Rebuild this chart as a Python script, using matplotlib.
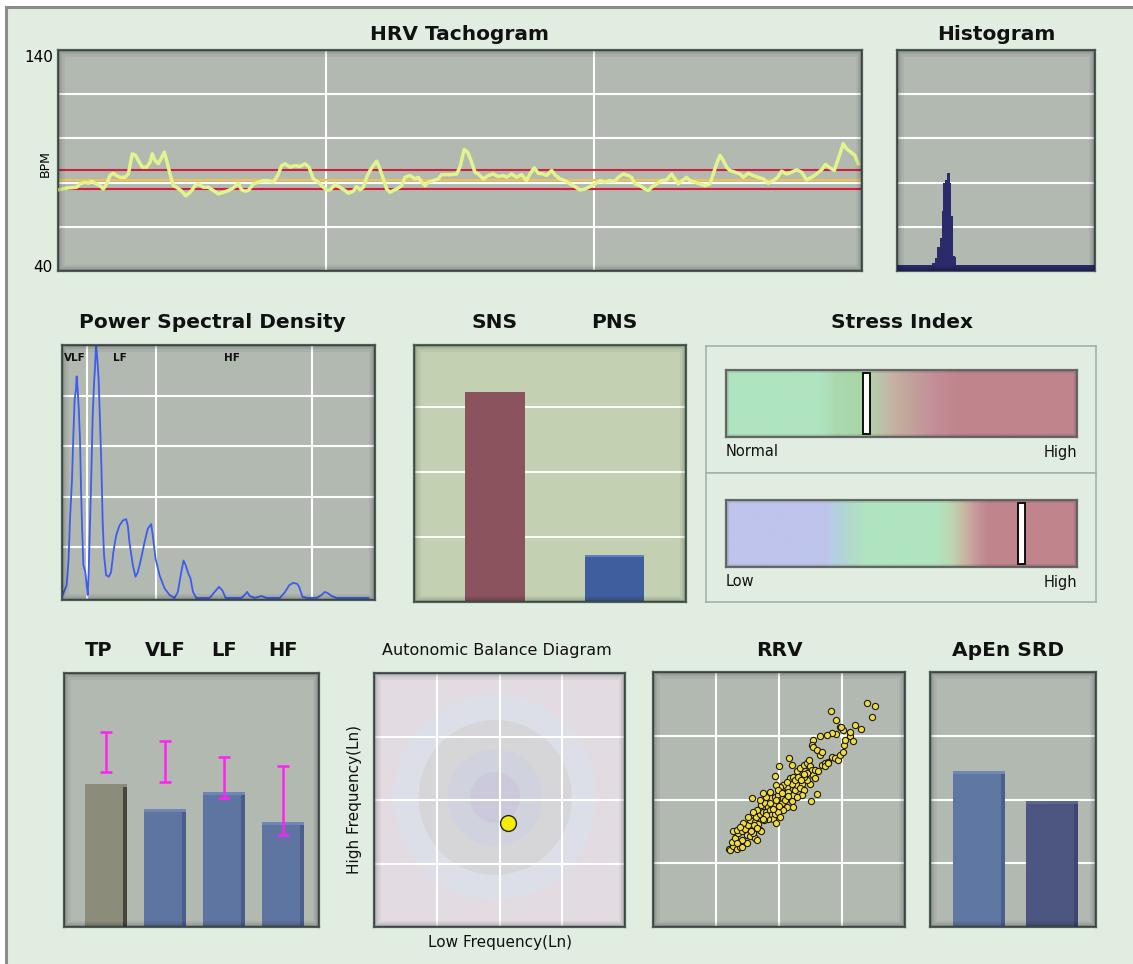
import numpy as np
import matplotlib
matplotlib.use('Agg')
import matplotlib.pyplot as plt
from matplotlib.patches import Rectangle, Circle
from matplotlib.colors import LinearSegmentedColormap
import matplotlib.transforms as mtransforms

# ---------------- data ----------------
tacho_t = [0.0, 3.85, 6.96, 8.21, 10.07, 11.32, 12.56, 14.43, 15.67, 16.91, 18.16, 19.40, 20.64, 21.89, 23.13,
           25.0, 26.24, 27.73, 28.98, 29.97, 31.46, 33.08, 34.33, 35.19, 36.19, 37.43, 38.43, 39.67, 40.54, 41.79,
           43.03, 44.27, 46.14, 47.63, 48.63, 49.87, 51.11, 52.36, 54.22, 56.09, 57.95, 59.82, 61.69, 63.55, 65.42,
           67.28, 68.53, 69.77, 71.01, 72.88, 74.74, 76.61, 78.48, 80.34, 81.96, 83.45, 84.69, 86.56, 88.42, 90.29,
           92.16, 93.65, 95.26, 97.13, 98.37, 100.24, 101.48,
           103.35, 105.21, 107.08, 108.32, 110.19, 111.43, 112.68, 113.92, 115.16, 116.41, 117.65, 118.89, 120.14,
           121.38, 122.63, 123.87, 125.11, 126.36, 128.22, 129.47, 131.33, 133.20, 134.44, 135.69, 136.93, 138.17,
           140.04, 141.90, 143.15, 145.01, 146.88, 148.74, 149.99, 150.86, 151.60, 152.85, 154.09, 155.58, 156.83,
           158.69, 160.56, 162.42, 164.29, 166.15, 167.40, 169.26, 171.13, 172.99, 174.86, 176.10, 177.72, 179.21,
           181.08, 182.32, 184.19, 185.68, 187.30, 189.16, 191.03, 192.89, 194.76, 196.62, 198.49, 200.35, 202.22,
           204.08, 205.95, 207.81, 209.06, 210.92, 212.79, 214.03, 215.27, 217.14, 219.01, 220.25, 221.49, 223.36,
           225.22, 227.09, 228.96, 230.20, 231.44, 232.94, 234.55, 235.80, 237.66, 239.53, 241.39, 243.26, 244.50,
           245.75, 246.99, 248.23, 249.48, 250.72, 252.59, 254.45, 255.70, 257.56, 259.43, 261.29, 263.16, 265.02,
           266.89, 268.50, 270.00, 271.86, 273.73, 275.59, 277.46, 279.32, 281.19, 283.06, 284.92, 286.41, 288.03,
           289.65, 291.14, 293.00, 294.25, 295.87, 297.36, 298.60]
tacho_bpm = [76.7, 77.6, 77.9, 79.4, 80.2, 79.7, 80.6, 79.4, 78.6, 77.1, 79.4, 83.2, 84.2, 83.2, 82.4,
             82.4, 83.9, 93.0, 92.3, 90.0, 87.0, 87.0, 89.2, 93.0, 90.0, 88.5, 90.8, 93.8, 90.0, 83.9,
             78.6, 77.9, 76.1, 74.1, 74.9, 76.4, 78.6, 79.4, 77.9, 77.9, 76.4, 74.9, 75.6, 76.4, 77.6,
             79.7, 76.7, 76.1, 76.4, 79.4, 80.2, 80.9, 80.9, 80.2, 83.2, 87.7, 88.5, 87.0, 87.7, 87.3,
             88.5, 87.0, 81.7, 80.2, 78.6, 76.7, 76.7,
             79.1, 77.9, 76.4, 75.2, 76.1, 78.2, 76.7, 77.9, 82.4, 85.5, 87.7, 89.7, 86.2,
             81.7, 77.1, 75.6, 76.4, 77.1, 78.6, 82.4, 83.2, 81.7, 82.4, 80.2, 78.6, 80.2,
             80.9, 81.7, 83.6, 83.6, 83.6, 83.9, 87.0, 91.5, 95.0, 93.8, 90.0, 84.7, 83.9,
             81.7, 83.2, 83.9, 82.7, 83.2, 82.4, 83.9, 82.4, 83.6, 80.9, 83.9, 86.7, 84.2,
             83.9, 83.2, 85.5, 83.2, 81.7, 80.9, 79.4, 78.2, 76.7, 77.1, 78.2, 79.4, 80.9,
             80.2, 80.9, 80.6, 82.4, 83.9, 83.2, 82.4, 79.4, 78.6, 77.1, 76.4, 77.9, 79.4,
             80.9, 81.2, 83.9, 81.7, 79.4, 80.9, 82.4, 80.9, 80.2, 79.4, 78.6, 79.4, 83.9,
             88.5, 92.3, 90.0, 87.0, 85.5, 84.7, 83.9, 82.4, 84.2, 83.2, 82.4, 81.7, 79.7,
             80.9, 82.4, 85.2, 83.9, 84.7, 85.8, 84.7, 81.2, 82.4, 83.9, 85.8, 88.2, 86.7,
             85.5, 90.8, 97.6, 95.3, 93.8, 92.3, 88.5]
tacho_mean = 81.4
tacho_lower = 77.1
tacho_upper = 85.8

hist_rr_ms = [525, 550, 575, 600, 625, 650, 675, 700, 725, 750, 775, 800, 825, 850, 875]
hist_counts = [3.5, 3.5, 6.0, 11.0, 11.0, 15.0, 27.0, 40.0, 41.0, 44.5, 44.5, 40.0, 25.0, 7.0, 6.5]
hist_bin_ms = 25
hist_floor = 2.5

psd_freq = [0.001, 0.0074, 0.0106, 0.0128, 0.0160, 0.0181, 0.0202, 0.0223, 0.0234, 0.0250, 0.0266, 0.0288,
            0.0304, 0.0320, 0.0341, 0.0373, 0.0394, 0.0410, 0.0426, 0.0448, 0.0469, 0.0490, 0.0512, 0.0528,
            0.0544, 0.0565, 0.0586, 0.0608, 0.0629, 0.0650, 0.0672, 0.0704, 0.0747, 0.0784, 0.0821, 0.0864,
            0.0917, 0.0971, 0.1024, 0.1051, 0.1078, 0.1131, 0.1174, 0.1211, 0.1264, 0.1318, 0.1371, 0.1424,
            0.1451, 0.1494, 0.1558, 0.1638, 0.1718, 0.1798, 0.1851, 0.1905, 0.1942, 0.1974, 0.2011, 0.2054,
            0.2092, 0.2145, 0.2252, 0.2358, 0.2438, 0.2508, 0.2561, 0.2615, 0.2732, 0.2865, 0.2919, 0.2956,
            0.2999, 0.3079, 0.3186, 0.3266, 0.3372, 0.3479, 0.3559, 0.3629, 0.3693, 0.3757, 0.3789, 0.3842,
            0.3933, 0.4066, 0.4146, 0.4200, 0.4253, 0.4306, 0.4386, 0.4653, 0.4893]
psd_power = [0.06, 0.25, 0.78, 1.56, 2.35, 3.20, 3.92, 4.12, 4.38, 4.12, 3.79, 3.13,
             2.15, 1.43, 0.65, 0.51, 0.25, 0.06, 0.51, 1.50, 2.48, 3.59, 4.25, 4.57,
             5.00, 4.71, 4.31, 3.46, 2.61, 1.50, 0.84, 0.45, 0.42, 0.51, 0.91, 1.23,
             1.43, 1.53, 1.56, 1.43, 1.10, 0.65, 0.42, 0.51, 0.78, 1.10, 1.37, 1.46,
             1.23, 0.78, 0.45, 0.19, 0.06, 0.0, 0.12, 0.51, 0.74, 0.65, 0.51, 0.38,
             0.12, 0.0, 0.0, 0.0, 0.12, 0.22, 0.15, 0.0, 0.0, 0.0, 0.06, 0.12,
             0.04, 0.0, 0.04, 0.0, 0.0, 0.0, 0.11, 0.25, 0.30, 0.28, 0.22, 0.02,
             0.0, 0.0, 0.06, 0.12, 0.09, 0.04, 0.0, 0.0, 0.0]
band_names = ['VLF', 'LF', 'HF']
band_edges = [0.04, 0.15, 0.40]
band_label_freq = [0.020, 0.092, 0.272]

ans_labels = ['SNS', 'PNS']
ans_values = [3.23, 0.72]

stress_values = [0.40, 0.842]
stress_left = ['Normal', 'Low']
stress_right = ['High', 'High']

power_labels = ['TP', 'VLF', 'LF', 'HF']
power_values = [56.3, 46.5, 53.1, 41.3]
power_norm_low = [61.0, 57.1, 50.8, 36.2]
power_norm_high = [76.8, 73.2, 66.9, 63.4]

abd_lf = [2.13]
abd_hf = [1.64]

rrv_x = [1.20, 1.23, 1.27, 1.33, 1.38, 1.42, 1.25, 1.30, 1.35, 1.27, 1.33, 1.41, 1.46, 1.49, 1.54, 1.62,
         1.65, 1.59, 1.57, 1.51, 1.54, 1.62, 1.67, 1.70, 1.72, 1.63, 1.70, 1.75, 1.72, 1.78, 1.83, 1.80,
         1.86, 1.88, 1.91, 1.96, 1.94, 1.91, 1.88, 1.94, 1.99, 2.02, 2.04, 2.07, 2.09, 2.12, 2.07, 2.02,
         1.96, 1.99, 2.15, 2.17, 2.20, 2.23, 2.25, 2.28, 2.20, 2.17, 2.23, 2.28, 2.33, 2.39, 2.44, 2.47,
         2.49, 2.52, 2.54, 2.57, 2.49, 2.44, 2.39, 2.36, 2.33, 2.39, 2.36, 2.28, 2.31, 2.41, 2.44, 2.50,
         2.60, 1.57, 2.00, 2.16, 2.21, 1.94, 1.80, 1.86, 1.75, 1.70, 1.83, 1.76, 1.65, 1.59, 1.51, 1.43,
         1.38, 1.49, 1.41, 1.33, 2.12, 2.23, 2.07, 1.99, 2.02, 2.12, 2.57, 2.62, 2.68, 2.73, 2.78, 2.84,
         2.89, 2.94, 2.97, 3.02, 3.03, 3.05, 3.13, 3.18, 3.12, 3.02, 2.97, 2.91, 2.84, 2.76, 2.65, 2.54,
         2.52, 2.54, 2.60, 2.65, 2.68, 2.82, 2.91, 2.99, 3.21, 3.30, 3.39, 3.52, 3.47, 2.73, 2.77,
         1.85, 1.95, 2.05, 1.90, 2.00, 2.10, 2.15, 1.80, 1.75, 1.60, 1.55, 1.65, 2.25, 2.30, 2.40, 2.35]
rrv_y = [1.23, 1.21, 1.27, 1.23, 1.26, 1.25, 1.34, 1.39, 1.47, 1.50, 1.52, 1.50, 1.53, 1.44, 1.42, 1.39,
         1.37, 1.47, 1.55, 1.60, 1.68, 1.65, 1.62, 1.52, 1.50, 1.73, 1.78, 1.81, 1.91, 1.94, 1.89, 1.81,
         1.84, 1.76, 1.70, 1.63, 1.78, 1.91, 2.02, 2.04, 2.07, 1.99, 1.94, 2.02, 2.10, 2.20, 2.23, 2.20,
         2.23, 2.15, 2.12, 2.04, 1.97, 2.07, 2.15, 2.23, 2.25, 2.33, 2.36, 2.44, 2.49, 2.54, 2.57, 2.62,
         2.52, 2.46, 2.38, 2.33, 2.25, 2.31, 2.36, 2.25, 2.18, 2.15, 2.07, 2.04, 2.33, 2.44, 2.41, 1.97,
         2.09, 2.03, 2.52, 2.65, 2.54, 2.37, 2.04, 2.12, 2.10, 1.99, 1.70, 1.68, 1.84, 1.81, 1.73, 1.63,
         1.57, 1.31, 1.37, 1.32, 1.89, 1.89, 1.84, 1.81, 1.73, 2.28, 2.46, 2.44, 2.54, 2.57, 2.59, 2.67,
         2.65, 2.62, 2.70, 2.75, 2.86, 2.93, 2.99, 2.91, 3.06, 3.09, 3.14, 3.03, 3.04, 3.01, 3.00, 2.93,
         2.86, 2.82, 2.78, 2.70, 2.75, 3.39, 3.24, 3.14, 3.17, 3.11, 3.51, 3.47, 3.29, 2.52, 2.57,
         1.95, 2.00, 2.10, 1.85, 1.90, 2.00, 2.05, 1.75, 1.70, 1.60, 1.50, 1.55, 2.30, 2.35, 2.40, 2.30]

apen_values = [2.45, 1.98]

# ---------------- styling ----------------
W, H = 1133, 964
BG = '#e1ede1'
PANEL = '#b2b9b1'
TITLE_KW = dict(fontsize=14.5, fontweight='bold', color='#111111')

fig = plt.figure(figsize=(W / 100, H / 100), dpi=100)
fig.patch.set_facecolor('white')
fig.add_artist(Rectangle((6 / W, -0.02), 1.05, 1 - 7 / H + 0.02, transform=fig.transFigure,
                         facecolor=BG, edgecolor='#8c8c8c', lw=2.2, zorder=-10))


def add_ax(x0, y0, x1, y1):
    return fig.add_axes([x0 / W, 1 - y1 / H, (x1 - x0) / W, (y1 - y0) / H])


def ftext(x, y, s, **kw):
    kw.setdefault('ha', 'center')
    kw.setdefault('va', 'center')
    return fig.text(x / W, 1 - y / H, s, **kw)


def bevel(ax, edge='#4e5c58'):
    for s in ax.spines.values():
        s.set_color(edge)
        s.set_linewidth(1.6)
    for lw, a in [(9, 0.05), (5.5, 0.07), (3, 0.12)]:
        ax.add_patch(Rectangle((0, 0), 1, 1, transform=ax.transAxes, fill=False, lw=lw,
                               edgecolor='black', alpha=a, zorder=6))


def style(ax, face=PANEL, xt=(), yt=(), edge='#4e5c58'):
    ax.set_facecolor(face)
    ax.set_xticks(list(xt))
    ax.set_yticks(list(yt))
    ax.tick_params(length=0, labelbottom=False, labelleft=False)
    ax.grid(True, color='white', lw=1.5)
    ax.set_axisbelow(True)
    bevel(ax, edge)


def bars3d(ax, x, h, width, face, top, side, side_w, top_h):
    ax.bar(x, h, width, color=face, lw=0, zorder=2)
    ax.bar([xi + width / 2 - side_w / 2 for xi in x], h, side_w, color=side, lw=0, zorder=3)
    ax.bar(x, [top_h] * len(h), width, bottom=[hi - top_h for hi in h], color=top, lw=0, zorder=3)


# ---- HRV Tachogram ----
ax = add_ax(58, 50, 862, 271)
ax.set_xlim(0, 300)
ax.set_ylim(40, 140)
style(ax, xt=[100, 200], yt=[60, 80, 100, 120])
ax.axhline(tacho_upper, color='#d2203c', lw=1.5, zorder=2)
ax.axhline(tacho_lower, color='#d2203c', lw=1.5, zorder=2)
ax.axhline(tacho_mean, color='#f4c048', lw=1.5, zorder=2)
ax.plot(tacho_t, tacho_bpm, color='#e2f58c', lw=2.5, zorder=3, solid_joinstyle='round')
ftext(460, 34, 'HRV Tachogram', **TITLE_KW)
ftext(53, 57, '140', ha='right', fontsize=11)
ftext(53, 268, '40', ha='right', fontsize=11)
ftext(45, 164, 'BPM', rotation=90, fontsize=9)

# ---- Histogram ----
ax = add_ax(897, 50, 1095, 271)
ax.set_xlim(0, 3000)
ax.set_ylim(0, 100)
style(ax, yt=[20, 40, 60, 80])
ax.axhspan(0, hist_floor, color='#2b2b6c', lw=0, zorder=3)
ax.bar(hist_rr_ms, hist_counts, width=hist_bin_ms, align='edge', color='#2b2b6c', lw=0, zorder=3)
ftext(996, 34, 'Histogram', **TITLE_KW)

# ---- Power Spectral Density ----
ax = add_ax(62, 345, 375, 600)
ax.set_xlim(0, 0.5)
ax.set_ylim(-0.04, 5.0)
style(ax, xt=band_edges, yt=[1, 2, 3, 4])
ax.plot(psd_freq, psd_power, color='#3d5cf2', lw=1.3, zorder=3)
for name, f in zip(band_names, band_label_freq):
    ax.text(f, 4.75, name, ha='center', va='center', fontsize=7.5, fontweight='bold', color='#111111')
ftext(212, 323, 'Power Spectral Density', **TITLE_KW)

# ---- SNS / PNS ----
ax = add_ax(414, 345, 686, 602)
ax.set_xlim(-0.678, 1.598)
ax.set_ylim(0, 3.954)
style(ax, face='#c3d0b1', yt=[1, 2, 3], edge='#4f6258')
ax.bar([0, 1], ans_values, 0.5, color=['#8b535e', '#3f5e9e'], lw=0, zorder=2)
ax.bar([1], [0.03], 0.5, bottom=[ans_values[1] - 0.03], color='#5f80c8', lw=0, zorder=3)
tr = mtransforms.blended_transform_factory(ax.transData, fig.transFigure)
for i, lab in enumerate(ans_labels):
    ax.text(i, 1 - 323 / H, lab, transform=tr, ha='center', va='center', **TITLE_KW)

# ---- Stress Index ----
ftext(902, 323, 'Stress Index', **TITLE_KW)
for (y0, y1) in [(346, 473), (473, 602)]:
    fr = add_ax(706, y0, 1096, y1)
    fr.set_facecolor(BG)
    fr.set_xticks([])
    fr.set_yticks([])
    for s in fr.spines.values():
        s.set_color('#a2b3ab')
        s.set_linewidth(1.2)

stress_cmaps = [
    LinearSegmentedColormap.from_list('s1', [
        (0.0, '#b0e4c0'), (0.27, '#b0e4c0'), (0.31, '#aad9ae'), (0.39, '#a9d6a8'),
        (0.43, '#b8c8ac'), (0.47, '#c4b4a2'), (0.53, '#c2a29c'), (0.60, '#c48c98'),
        (0.67, '#c0848c'), (1.0, '#c0848c')]),
    LinearSegmentedColormap.from_list('s2', [
        (0.0, '#bec4ec'), (0.28, '#bec4ec'), (0.31, '#b4d0e0'), (0.36, '#b2dac8'),
        (0.40, '#b0e4c0'), (0.60, '#b0e4c0'), (0.64, '#bcd8b2'), (0.68, '#c8b8a0'),
        (0.72, '#c4949a'), (0.75, '#c0848c'), (1.0, '#c0848c')]),
]
grad = np.linspace(0, 1, 512)[None, :]
for (y0, y1), cmap, val, lt, rt in zip([(370, 437), (500, 567)], stress_cmaps, stress_values,
                                      stress_left, stress_right):
    bx = add_ax(726, y0, 1077, y1)
    bx.imshow(grad, cmap=cmap, extent=[0, 1, 0, 1], aspect='auto', interpolation='bilinear')
    bx.set_xlim(0, 1)
    bx.set_ylim(0, 1)
    bx.set_xticks([])
    bx.set_yticks([])
    for s in bx.spines.values():
        s.set_color('#6a6a6a')
        s.set_linewidth(1.6)
    bx.add_patch(Rectangle((0, 0), 1, 1, transform=bx.transAxes, fill=False, lw=4,
                           edgecolor='black', alpha=0.10, zorder=4))
    bx.add_patch(Rectangle((val - 0.009, 0.04), 0.018, 0.92, facecolor='white',
                           edgecolor='black', lw=1.3, zorder=5))
    bx.text(0.0, -0.10, lt, transform=bx.transAxes, ha='left', va='top', fontsize=10.5, color='#111111')
    bx.text(1.0, -0.12, rt, transform=bx.transAxes, ha='right', va='top', fontsize=10.5, color='#111111')

# ---- TP / VLF / LF / HF ----
ax = add_ax(64, 673, 319, 927)
ax.set_xlim(-0.712, 3.61)
ax.set_ylim(0, 100)
style(ax)
ax.grid(False)
xs = list(range(len(power_values)))
bars3d(ax, xs, power_values, 0.70,
       face=['#8b8c7a', '#5e74a1', '#5e74a1', '#5e74a1'],
       top=['#8b8c7a', '#6f86b6', '#6f86b6', '#6f86b6'],
       side=['#46473c', '#4b5e8b', '#4b5e8b', '#4b5e8b'],
       side_w=0.06, top_h=1.3)
mid = [(lo + hi) / 2 for lo, hi in zip(power_norm_low, power_norm_high)]
half = [(hi - lo) / 2 for lo, hi in zip(power_norm_low, power_norm_high)]
ax.errorbar(xs, mid, yerr=half, fmt='none', ecolor='#ff22f4', elinewidth=1.8,
            capsize=4, capthick=1.8, zorder=5)
tr = mtransforms.blended_transform_factory(ax.transData, fig.transFigure)
for i, lab in enumerate(power_labels):
    ax.text(i - (0.12 if i == 0 else 0), 1 - 651 / H, lab, transform=tr, ha='center', va='center',
            fontsize=14, fontweight='bold', color='#111111')

# ---- Autonomic Balance Diagram ----
ax = add_ax(374, 673, 625, 927)
ax.set_xlim(0, 4)
ax.set_ylim(0, 4)
style(ax, face='#e2dce2', xt=[1, 2, 3], yt=[1, 2, 3])
zone_center = (1.93, 2.04)
zone_radii = [1.62, 1.22, 0.76, 0.40]
zone_colors = ['#dcdfe8', '#d6d6d9', '#d0d3de', '#ccc9db']
for r, c in zip(zone_radii, zone_colors):
    ax.add_patch(Circle(zone_center, r, facecolor=c, edgecolor='none', zorder=0))
ax.set_axisbelow(False)
for g in [1, 2, 3]:
    ax.axvline(g, color='white', lw=1.5, zorder=1)
    ax.axhline(g, color='white', lw=1.5, zorder=1)
ax.grid(False)
ax.scatter(abd_lf, abd_hf, s=130, color='#f6ee00', edgecolor='#222222', lw=1.0, zorder=5)
ftext(497, 651, 'Autonomic Balance Diagram', fontsize=11.5, color='#111111')
ftext(355, 800, 'High Frequency(Ln)', rotation=90, fontsize=11, color='#111111')
ftext(500, 942, 'Low Frequency(Ln)', fontsize=11, color='#111111')

# ---- RRV ----
ax = add_ax(653, 672, 905, 927)
ax.set_xlim(0, 4)
ax.set_ylim(0, 4)
style(ax, xt=[1, 2, 3], yt=[1, 2, 3])
ax.scatter(rrv_x, rrv_y, s=20, facecolor='#f2dc3c', edgecolor='#1a1a1a', lw=0.8, zorder=3)
ftext(779, 651, 'RRV', **TITLE_KW)

# ---- ApEn SRD ----
ax = add_ax(930, 672, 1096, 927)
ax.set_xlim(-0.671, 1.603)
ax.set_ylim(0, 4)
style(ax, yt=[1, 2, 3])
bars3d(ax, [0, 1], apen_values, 0.71,
       face=['#5f77a3', '#4d5681'], top=['#7189b6', '#5b6693'], side=['#4b5f8c', '#3c4570'],
       side_w=0.06, top_h=0.05)
ftext(1008, 651, 'ApEn SRD', **TITLE_KW)

fig.savefig('out.png', dpi=100, facecolor=fig.get_facecolor())
